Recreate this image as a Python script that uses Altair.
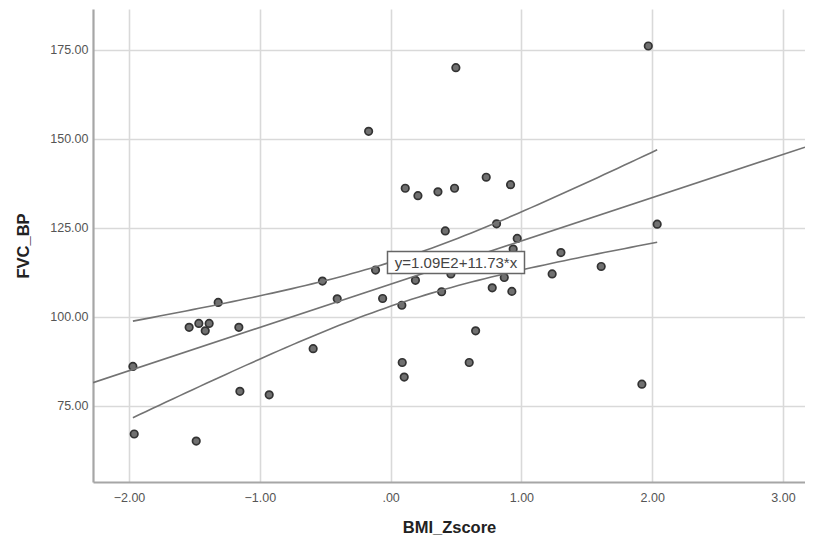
import altair as alt
import numpy as np
import pandas as pd

# ---- data ----
bmi_z = [-1.970, -1.960, -1.540, -1.486, -1.466, -1.417, -1.387, -1.318, -1.160, -1.152,
         -0.928, -0.592, -0.521, -0.408, -0.168, -0.115, -0.061, 0.086, 0.089, 0.104,
         0.112, 0.190, 0.209, 0.362, 0.390, 0.418, 0.461, 0.489, 0.499, 0.601,
         0.650, 0.731, 0.777, 0.810, 0.869, 0.917, 0.927, 0.937, 0.968, 1.235,
         1.302, 1.610, 1.921, 1.970, 2.038]
fvc_bp = [86.0, 67.0, 97.0, 65.0, 98.1, 96.0, 98.1, 104.0, 97.0, 79.0,
          78.0, 91.0, 110.0, 105.0, 152.1, 113.1, 105.1, 103.2, 87.1, 83.0,
          136.1, 110.2, 134.0, 135.1, 107.0, 124.1, 112.0, 136.1, 170.0, 87.1,
          96.0, 139.2, 108.1, 126.1, 111.0, 137.1, 107.1, 119.0, 122.0, 112.0,
          118.0, 114.1, 81.0, 176.1, 126.0]

x_ticks = [-2, -1, 0, 1, 2, 3]
y_ticks = [75, 100, 125, 150, 175]
x_domain = [-2.275, 3.168]
y_domain = [53.5, 186.5]
fit_label = "y=1.09E2+11.73*x"
label_at_x = 0.5
t_crit = 2.017  # 95% two-sided, df = n - 2

# ---- regression and 95% mean confidence band ----
x = np.array(bmi_z)
y = np.array(fvc_bp)
n = len(x)
slope, intercept = np.polyfit(x, y, 1)
resid = y - (intercept + slope * x)
s = np.sqrt(np.sum(resid ** 2) / (n - 2))
xbar = x.mean()
sxx = np.sum((x - xbar) ** 2)
xs = np.linspace(x.min(), x.max(), 80)
se = s * np.sqrt(1.0 / n + (xs - xbar) ** 2 / sxx)
yhat = intercept + slope * xs

points = pd.DataFrame({"BMI_Zscore": bmi_z, "FVC_BP": fvc_bp})
fit_df = pd.DataFrame({"BMI_Zscore": x_domain,
                       "FVC_BP": [intercept + slope * v for v in x_domain]})
band_df = pd.concat([
    pd.DataFrame({"BMI_Zscore": xs, "FVC_BP": yhat + t_crit * se, "side": "upper"}),
    pd.DataFrame({"BMI_Zscore": xs, "FVC_BP": yhat - t_crit * se, "side": "lower"}),
])
label_df = pd.DataFrame({"BMI_Zscore": [label_at_x],
                         "FVC_BP": [intercept + slope * label_at_x],
                         "text": [fit_label]})

xscale = alt.Scale(domain=x_domain, nice=False, zero=False)
yscale = alt.Scale(domain=y_domain, nice=False, zero=False)

x_enc = alt.X("BMI_Zscore:Q", scale=xscale, title="BMI_Zscore",
              axis=alt.Axis(values=x_ticks,
                            labelExpr="datum.value == 0 ? '.00' : format(datum.value, '.2f')"))
y_enc = alt.Y("FVC_BP:Q", scale=yscale, title="FVC_BP",
              axis=alt.Axis(values=y_ticks, format=".2f"))

pts = alt.Chart(points).mark_point(
    filled=True, size=56, fill="#707070", stroke="#333333", strokeWidth=1.7, opacity=1
).encode(x=x_enc, y=y_enc)

fit = alt.Chart(fit_df).mark_line(color="#737373", strokeWidth=1.6, clip=True).encode(
    x=alt.X("BMI_Zscore:Q", scale=xscale), y=alt.Y("FVC_BP:Q", scale=yscale))

band = alt.Chart(band_df).mark_line(color="#737373", strokeWidth=1.6).encode(
    x=alt.X("BMI_Zscore:Q", scale=xscale), y=alt.Y("FVC_BP:Q", scale=yscale),
    detail="side:N")

box_w = 137
box_h = 22
box_path = "M-1,{a}L1,{a}L1,{b}L-1,{b}Z".format(a=-box_h / box_w, b=box_h / box_w)
box = alt.Chart(label_df).mark_point(
    shape=box_path, size=box_w * box_w, filled=True, fill="white",
    stroke="#666666", strokeWidth=1.5, opacity=1
).encode(x=alt.X("BMI_Zscore:Q", scale=xscale), y=alt.Y("FVC_BP:Q", scale=yscale))

txt = alt.Chart(label_df).mark_text(
    font="Liberation Sans", fontSize=15, color="#444444", align="center", baseline="middle"
).encode(x=alt.X("BMI_Zscore:Q", scale=xscale), y=alt.Y("FVC_BP:Q", scale=yscale),
         text="text:N")

chart = alt.layer(pts, fit, band, box, txt).properties(
    width=712, height=473,
    autosize=alt.AutoSizeParams(type="none"),
    padding={"left": 85, "top": 1, "right": 0, "bottom": 55},
).configure_view(stroke=None).configure_axis(
    grid=True, gridColor="#d9d9d9", gridWidth=1.6,
    domainColor="#a6a6a6", domainWidth=2.2,
    ticks=False,
    labelFont="Liberation Sans", labelFontSize=12.5, labelColor="#555555",
    titleFont="Liberation Sans", titleFontSize=16.5, titleFontWeight="bold",
    titleColor="#222222",
).configure_axisX(
    labelPadding=9, titlePadding=16,
).configure_axisY(
    labelPadding=5, titlePadding=18,
)

chart.save("out.html", embed_options={"renderer": "svg", "actions": False})
